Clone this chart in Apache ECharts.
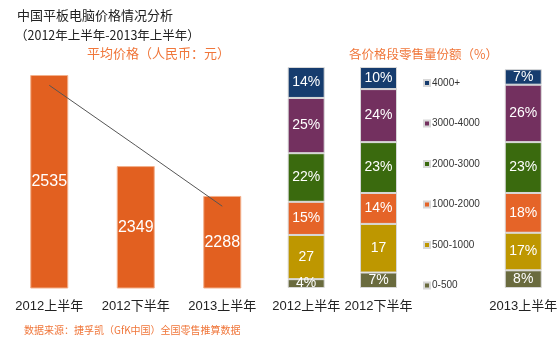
<!DOCTYPE html>
<html>
<head>
<meta charset="utf-8">
<script src="https://cdn.jsdelivr.net/npm/echarts@6/dist/echarts.min.js"></script>
<style>
  html, body { margin: 0; padding: 0; background: #fff; }
  #chart { width: 560px; height: 344px; }
</style>
</head>
<body>
<div id="chart"></div>
<script>
// 平均价格
const periods = ['2012上半年', '2012下半年', '2013上半年'];
const avgPrice = [2535, 2349, 2288];
const trendValues = [2514, 2391, 2267];

// 各价格段零售量份额 (third slot left empty for the legend)
const shareCats = ['2012上半年', '2012下半年', '', '2013上半年'];
const priceBands = ['4000+', '3000-4000', '2000-3000', '1000-2000', '500-1000', '0-500'];
const share0to500 = [4, 7, null, 8];
const share500to1000 = [20, 22, null, 17];
const share1000to2000 = [15, 14, null, 18];
const share2000to3000 = [22, 23, null, 23];
const share3000to4000 = [25, 24, null, 26];
const share4000plus = [14, 10, null, 7];
// labels as printed on the original chart
const label500to1000 = ['27', '17', '', '17%'];

const bandColors = {
  '4000+': '#163c6e',
  '3000-4000': '#73305f',
  '2000-3000': '#3a6a0e',
  '1000-2000': '#e56428',
  '500-1000': '#be9700',
  '0-500': '#6a6b3e'
};

const font = "'Liberation Sans', 'Noto Sans CJK SC', sans-serif";
const cjk = "'Noto Sans CJK SC', sans-serif";

function stackSeries(name, data, labels) {
  return {
    name: name,
    type: 'bar',
    stack: 'share',
    xAxisIndex: 1,
    yAxisIndex: 1,
    barWidth: 37,
    data: data,
    itemStyle: { color: bandColors[name], borderColor: '#d8d8d8', borderWidth: 1 },
    label: {
      show: true,
      position: 'inside',
      color: '#fff',
      fontSize: 14,
      fontFamily: font,
      formatter: p => labels ? labels[p.dataIndex] : (p.value == null ? '' : p.value + '%')
    }
  };
}

const chart = echarts.init(document.getElementById('chart'));
chart.setOption({
  animation: false,
  title: [
    { text: '中国平板电脑价格情况分析', left: 12, top: 4,
      textStyle: { fontSize: 13, fontWeight: 'normal', color: '#222', fontFamily: cjk } },
    { text: '（2012年上半年-2013年上半年）', left: 10, top: 24,
      textStyle: { fontSize: 12.5, fontWeight: 'normal', color: '#222', fontFamily: cjk } },
    { text: '平均价格（人民币：元）', left: 82, top: 42,
      textStyle: { fontSize: 13, fontWeight: 'normal', color: '#f0763a', fontFamily: cjk } },
    { text: '各价格段零售量份额（%）', left: 344, top: 43,
      textStyle: { fontSize: 12.5, fontWeight: 'normal', color: '#f0763a', fontFamily: cjk } },
    { text: '数据来源：捷孚凯（GfK中国）全国零售推算数据', left: 19, top: 320,
      textStyle: { fontSize: 10, fontWeight: 'normal', color: '#f0763a', fontFamily: cjk } }
  ],
  legend: {
    orient: 'vertical',
    left: 418,
    top: 73,
    itemWidth: 6,
    itemHeight: 6,
    itemGap: 30.5,
    icon: 'rect',
    data: priceBands,
    textStyle: { fontSize: 10, color: '#333', fontFamily: font, padding: [0, 0, 0, -3] }
  },
  grid: [
    { left: 6, top: 75, width: 259.5, bottom: 56 },
    { left: 270, top: 67, width: 291, bottom: 56 }
  ],
  xAxis: [
    { type: 'category', gridIndex: 0, data: periods,
      axisLine: { show: false }, axisTick: { show: false },
      axisLabel: { fontSize: 13, color: '#222', margin: 12, fontFamily: font, interval: 0 } },
    { type: 'category', gridIndex: 1, data: shareCats,
      axisLine: { show: false }, axisTick: { show: false },
      axisLabel: { fontSize: 13, color: '#222', margin: 12, fontFamily: font, interval: 0 } }
  ],
  yAxis: [
    { type: 'value', gridIndex: 0, min: 2100, max: 2535, show: false },
    { type: 'value', gridIndex: 1, min: 0, max: 100, show: false }
  ],
  series: [
    {
      name: '平均价格',
      type: 'bar',
      barWidth: 38,
      data: avgPrice,
      itemStyle: { color: '#e26020', borderColor: '#f3b08c', borderWidth: 1 },
      label: { show: true, position: 'inside', color: '#fff', fontSize: 16, fontFamily: font }
    },
    {
      name: '趋势',
      type: 'line',
      data: trendValues,
      symbol: 'none',
      lineStyle: { color: '#555', width: 1 },
      z: 5
    },
    stackSeries('0-500', share0to500),
    stackSeries('500-1000', share500to1000, label500to1000),
    stackSeries('1000-2000', share1000to2000),
    stackSeries('2000-3000', share2000to3000),
    stackSeries('3000-4000', share3000to4000),
    stackSeries('4000+', share4000plus)
  ]
});
</script>
</body>
</html>
